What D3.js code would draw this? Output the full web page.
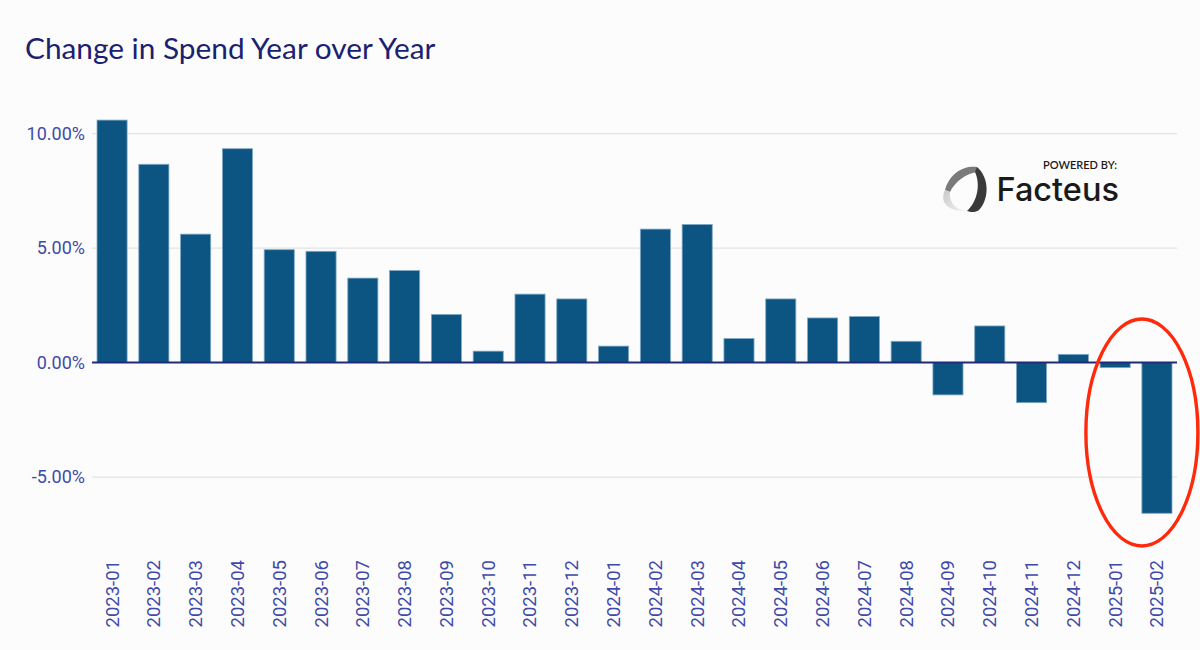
<!DOCTYPE html>
<html>
  <head>
    <meta charset="utf-8" />
    <title>Change in Spend Year over Year</title>
    <script src="https://d3js.org/d3.v7.min.js"></script>
    <style>
      body { margin: 0; background: #fcfcfc; }
    </style>
  </head>
  <body>
    <script>
      const months = [
        '2023-01', '2023-02', '2023-03', '2023-04', '2023-05', '2023-06', '2023-07',
        '2023-08', '2023-09', '2023-10', '2023-11', '2023-12', '2024-01', '2024-02',
        '2024-03', '2024-04', '2024-05', '2024-06', '2024-07', '2024-08', '2024-09',
        '2024-10', '2024-11', '2024-12', '2025-01', '2025-02',
      ];
      const changePct = [
        10.59, 8.66, 5.61, 9.34, 4.93, 4.86, 3.69, 4.02, 2.1, 0.5, 2.99, 2.78, 0.72,
        5.83, 6.03, 1.05, 2.78, 1.95, 2.01, 0.93, -1.41, 1.6, -1.75, 0.36, -0.22, -6.58,
      ];
      const yTicks = [-5, 0, 5, 10];
      const highlighted = '2025-02';

      const W = 1200, H = 650;
      const margin = { left: 92, right: 23 };
      const labelColor = '#3f4aa8';

      const svg = d3.select('body').append('svg').attr('width', W).attr('height', H);
      svg.append('rect').attr('width', W).attr('height', H).attr('fill', '#fcfcfc');

      svg.append('text')
        .attr('x', 25).attr('y', 59)
        .attr('fill', '#1b2070')
        .style('font-family', 'Lato, sans-serif')
        .style('font-size', '29.8px')
        .text('Change in Spend Year over Year');

      const x = d3.scaleBand()
        .domain(months)
        .range([margin.left, W - margin.right])
        .paddingInner(0.28)
        .paddingOuter(0.12);

      const y = d3.scaleLinear().domain([-8, 12]).range([545.8, 87.8]);

      // grid
      svg.append('g')
        .selectAll('line')
        .data(yTicks.filter((d) => d !== 0))
        .join('line')
        .attr('x1', margin.left).attr('x2', W - margin.right)
        .attr('y1', (d) => y(d)).attr('y2', (d) => y(d))
        .attr('stroke', '#e3e3e3').attr('stroke-width', 1.2);

      // y labels
      svg.append('g')
        .selectAll('text')
        .data(yTicks)
        .join('text')
        .attr('x', 85).attr('y', (d) => y(d))
        .attr('dy', '0.35em')
        .attr('text-anchor', 'end')
        .attr('fill', labelColor)
        .style('font-family', 'Roboto, sans-serif')
        .style('font-size', '18px')
        .text((d) => d.toFixed(2) + '%');

      // bars
      svg.append('g')
        .selectAll('rect')
        .data(months)
        .join('rect')
        .attr('x', (d) => x(d))
        .attr('width', x.bandwidth())
        .attr('y', (d, i) => y(Math.max(0, changePct[i])))
        .attr('height', (d, i) => Math.abs(y(changePct[i]) - y(0)))
        .attr('fill', '#0c5582')
        .attr('stroke', '#7fa8c6')
        .attr('stroke-width', 0.8);

      // zero line
      svg.append('line')
        .attr('x1', margin.left).attr('x2', W - margin.right)
        .attr('y1', y(0)).attr('y2', y(0))
        .attr('stroke', '#1f2a78').attr('stroke-width', 2);

      // x labels
      svg.append('g')
        .selectAll('text')
        .data(months)
        .join('text')
        .attr('transform', (d) => `translate(${x(d) + x.bandwidth() / 2},560) rotate(-90)`)
        .attr('dy', '0.35em')
        .attr('text-anchor', 'end')
        .attr('fill', labelColor)
        .style('font-family', 'Roboto, sans-serif')
        .style('font-size', '18.5px')
        .text((d) => d);

      // highlight ellipse (drawn a little left of the bar, as in the original)
      svg.append('ellipse')
        .attr('cx', x(highlighted))
        .attr('cy', 432.5)
        .attr('rx', 56).attr('ry', 113.5)
        .attr('fill', 'none')
        .attr('stroke', '#ff2a0c').attr('stroke-width', 3.4);

      // logo
      const defs = svg.append('defs');
      const fade = defs.append('linearGradient')
        .attr('id', 'fade').attr('x1', 0).attr('y1', 0).attr('x2', 1).attr('y2', 1);
      fade.append('stop').attr('offset', 0).attr('stop-color', '#c8c8c8');
      fade.append('stop').attr('offset', 1).attr('stop-color', '#f4f4f4');
      const logo = svg.append('g').attr('transform', 'translate(935,160)');
      logo.append('path')
        .attr('d', 'M10,30 C15,12 30,5 42,7 L42,12 C30,14 20,22 15,32 Z')
        .attr('fill', '#7a7a7a');
      logo.append('path')
        .attr('d', 'M42,7 C55,18 54,40 44,50 C40,53 35,52 32,51 C42,42 46,25 40,12 Z')
        .attr('fill', '#3a3a3a');
      logo.append('path')
        .attr('d', 'M10,30 C5,40 10,52 32,51 C20,50 14,42 15,32 Z')
        .attr('fill', 'url(#fade)');
      svg.append('text')
        .attr('x', 1117).attr('y', 169)
        .attr('text-anchor', 'end')
        .attr('fill', '#1a1a1a')
        .style('font-family', 'Lato, sans-serif')
        .style('font-size', '11px')
        .style('font-weight', 600)
        .text('POWERED BY:');
      svg.append('text')
        .attr('x', 1119).attr('y', 201)
        .attr('text-anchor', 'end')
        .attr('fill', '#1a1a1a')
        .style('font-family', 'Inter, sans-serif')
        .style('font-size', '32.5px')
        .style('font-weight', 500)
        .text('Facteus');
    </script>
  </body>
</html>
